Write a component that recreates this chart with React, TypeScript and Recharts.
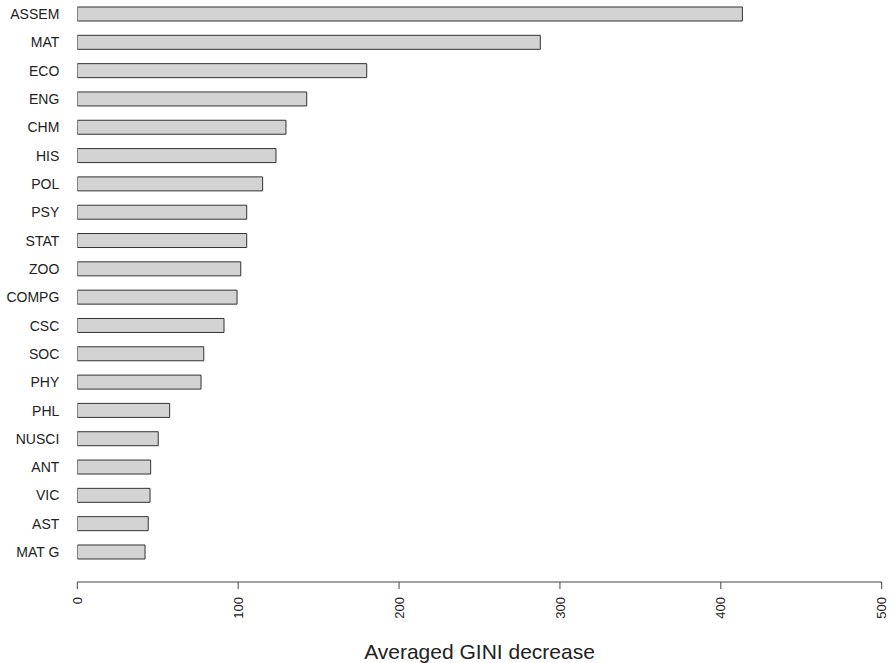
import { Bar, BarChart, XAxis, YAxis } from "recharts";

// variable importance, top 20 (mean decrease in Gini)
const subjects = [
  "ASSEM", "MAT", "ECO", "ENG", "CHM", "HIS", "POL", "PSY", "STAT", "ZOO",
  "COMPG", "CSC", "SOC", "PHY", "PHL", "NUSCI", "ANT", "VIC", "AST", "MAT G",
];
const giniDecrease = [
  413.4, 287.8, 179.9, 142.6, 129.7, 123.5, 115.2, 105.3, 105.3, 101.6,
  99.3, 91.2, 78.6, 76.9, 57.4, 50.3, 45.6, 45.2, 44.1, 42.1,
];
const xTicks = [0, 100, 200, 300, 400, 500];

const rows = subjects.map((name, i) => ({ name, gini: giniDecrease[i] }));

const font = "'Liberation Sans', Arial, sans-serif";

function RotatedTick({ x, y, payload }: any) {
  return (
    <g transform={`translate(${x},${y}) rotate(-90)`}>
      <text textAnchor="end" dy="0.35em" fontSize={13} fontFamily={font} fill="#222">
        {payload.value}
      </text>
    </g>
  );
}

export default function App() {
  return (
    <div style={{ position: "absolute", left: 0, top: 0, background: "#fff" }}>
      <BarChart
        width={891}
        height={663}
        data={rows}
        layout="vertical"
        margin={{ top: 0, right: 9.3, bottom: 0, left: 0 }}
      >
        <XAxis
          type="number"
          dataKey="gini"
          domain={[0, 500]}
          ticks={xTicks}
          allowDataOverflow
          height={81}
          tickSize={7}
          tickMargin={8}
          tick={<RotatedTick />}
          stroke="#444"
          interval={0}
          label={{
            value: "Averaged GINI decrease",
            position: "insideBottom",
            offset: 4,
            fontSize: 21,
            fontFamily: font,
            fill: "#222",
          }}
        />
        <YAxis
          type="category"
          dataKey="name"
          width={77.3}
          axisLine={false}
          tickLine={false}
          tickSize={0}
          tickMargin={18}
          padding={{ top: 0, bottom: 15.7 }}
          interval={0}
          tick={{ fontSize: 14, fontFamily: font, fill: "#222" }}
        />
        <Bar
          dataKey="gini"
          barSize={14}
          fill="#d3d3d3"
          stroke="#333"
          strokeWidth={1}
          isAnimationActive={false}
        />
      </BarChart>
    </div>
  );
}
